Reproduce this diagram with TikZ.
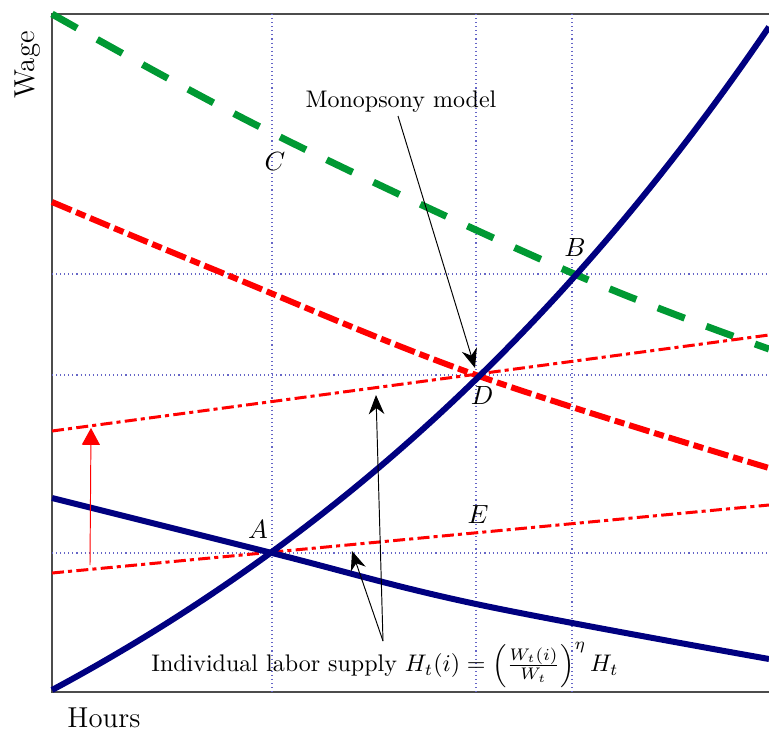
\documentclass[tikz,border=0pt]{standalone}
\usepackage{amsmath}
\usetikzlibrary{arrows.meta}
\definecolor{navyc}{rgb}{0,0,0.5}
\definecolor{greenc}{rgb}{0,0.6,0.2}
\definecolor{dotc}{rgb}{0.4,0.4,0.78}
\tikzset{
  frameline/.style={draw=black!70, line width=0.45pt},
  guide/.style={draw=dotc, line width=0.45pt, dash pattern=on 0.45pt off 1.25pt},
  supplycurve/.style={draw=navyc, line width=2.5pt},
  demandgreen/.style={draw=greenc, line width=2.9pt, dash pattern=on 12pt off 9.6pt},
  demandred/.style={draw=red, line width=2.5pt, dash pattern=on 8.8pt off 2.1pt on 4.2pt off 2.1pt},
  indsupply/.style={draw=red, line width=1.25pt, dash pattern=on 5pt off 1.7pt on 1.7pt off 1.8pt},
  annot/.style={draw=black, line width=0.4pt, -{Stealth[length=8pt,width=6.5pt]}},
  ptlabel/.style={font=\fontsize{11}{13}\selectfont, inner sep=0pt},
  axislabel/.style={font=\large, inner sep=0pt}
}
\begin{document}
\begin{tikzpicture}[x=0.4167pt, y=-0.4167pt]
\useasboundingbox (0,0) rectangle (769,734);
% frame
\draw[frameline] (769,14) -- (52,14) -- (52,692) -- (769,692);
% guides
\draw[guide] (272,14) -- (272,692);
\draw[guide] (476,14) -- (476,692);
\draw[guide] (572,14) -- (572,692);
\draw[guide] (52,274) -- (769,274);
\draw[guide] (52,375) -- (769,375);
\draw[guide] (52,553) -- (769,553);
% curves
\draw[demandgreen] plot[smooth, tension=0.6] coordinates {(52,14) (272,133) (572,273) (769,349)};
\draw[demandred] plot[smooth, tension=0.6] coordinates {(52,202) (220,272) (476,375) (769,468)};
\draw[indsupply] (52,573) -- (769,505);
\draw[indsupply] (52,431) -- (769,335);
\draw[supplycurve] plot[smooth, tension=0.6] coordinates {(52,498) (272,553) (476,604) (769,659)};
\draw[supplycurve] plot[domain=52:769, samples=80] (\x, {1072 - 382*exp(0.00141*(\x-52))});
% red shift arrow
\coordinate (shiftlow) at (90,565);
\coordinate (shifthigh) at (91,428);
\draw[red, line width=0.4pt, -{Triangle[length=7pt,width=7.5pt]}] (shiftlow) -- (shifthigh);
% point labels
\node[ptlabel] (A) at (258,530) {$A$};
\node[ptlabel] (B) at (575,248) {$B$};
\node[ptlabel] (C) at (275,162) {$C$};
\node[ptlabel] (D) at (482,396) {$D$};
\node[ptlabel] (E) at (478,515) {$E$};
% axis labels
\node[axislabel, rotate=90] (wage) at (28,65) {Wage};
\node[axislabel] (hours) at (104,718) {Hours};
% annotations
\node[inner sep=0pt] (mono) at (401,102) {Monopsony model};
\coordinate (monostart) at (398,116);
\coordinate (monotip) at (475,368);
\draw[annot] (monostart) -- (monotip);
\node[inner sep=0pt] (indiv) at (385,665) {Individual labor supply $H_t(i)=\left(\frac{W_t(i)}{W_t}\right)^{\eta}H_t$};
\coordinate (indstart) at (383,641);
\coordinate (tipA) at (352,551);
\coordinate (tipD) at (376,395);
\draw[annot] (indstart) -- (tipA);
\draw[annot] (indstart) -- (tipD);
\end{tikzpicture}
\end{document}
